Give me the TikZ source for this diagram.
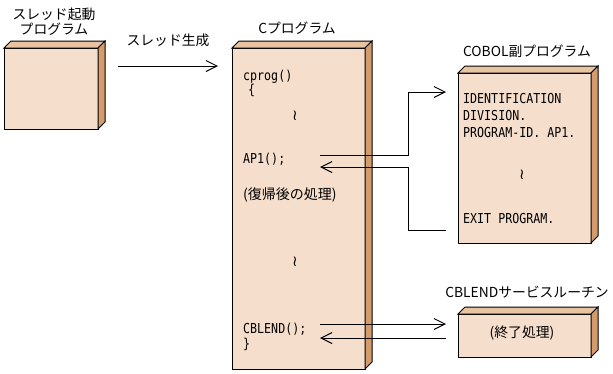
\documentclass[tikz,border=0pt]{standalone}
\usepackage{fontspec}
\usetikzlibrary{arrows.meta,calc}
\newfontfamily\jp{Noto Sans CJK JP}
\newfontfamily\code[FakeStretch=0.85]{DejaVu Sans Mono}
\newfontfamily\sym{DejaVu Sans}
\definecolor{frontc}{RGB}{245,222,204}
\definecolor{topc}{RGB}{232,196,160}
\definecolor{sidec}{RGB}{212,155,108}
\tikzset{
  front/.style={draw=black, fill=frontc, line width=1pt, inner sep=0pt, outer sep=0pt, anchor=north west},
  topface/.style={draw=black, fill=topc, line width=1pt, line join=miter},
  sideface/.style={draw=black, fill=sidec, line width=1pt, line join=miter},
  title/.style={font=\jp\fontsize{13.8}{15}\selectfont, inner sep=0pt},
  codet/.style={font=\code\fontsize{13.7}{15}\selectfont, inner sep=0pt, anchor=base west},
  jpcode/.style={font=\jp\fontsize{14}{15}\selectfont, inner sep=0pt, anchor=base west},
  wave/.style={font=\sym\fontsize{15}{16}\selectfont, inner sep=0pt},
  arr/.style={line width=1pt, -{Straight Barb[length=11pt,width=11pt,line width=1pt]}},
}
\newcommand\cubebox[5]{%
  \node[front, minimum width={(#4-#2)*1pt}, minimum height={(#5-#3)*1pt}] (#1) at (#2,#3) {};
  \draw[topface] (#1.north west) -- ++(7,-7) -- ([shift={(7,-7)}]#1.north east) -- (#1.north east) -- cycle;
  \draw[sideface] (#1.north east) -- ++(7,-7) -- ([shift={(7,-7)}]#1.south east) -- (#1.south east) -- cycle;
}
\begin{document}
\begin{tikzpicture}[x=1pt,y=-1pt]
\useasboundingbox (0,0) rectangle (613,373);
% boxes
\cubebox{b1}{4}{48}{98}{129}
\cubebox{cp}{232}{48}{365}{369}
\cubebox{cb}{458}{73}{591}{243}
\cubebox{cl}{458}{314}{591}{357}
% titles
\node[title] (t1a) at (54,14) {スレッド起動};
\node[title] (t1b) at (54,29) {プログラム};
\node[title] (tth) at (168,40) {スレッド生成};
\node[title] (tcp) at (297,28) {Cプログラム};
\node[title] (tcb) at (527,51) {COBOL副プログラム};
\node[title] (tcl) at (527,292) {CBLENDサービスルーチン};
% C program text
\node[codet] (c1) at (243,80) {cprog()};
\node[codet] (c2) at (248,94) {\{};
\node[wave] (w1) at (295,116) {≀};
\node[codet] (c3) at (243,163) {AP1();};
\node[jpcode] (c4) at (243,199) {(復帰後の処理)};
\node[wave] (w2) at (295,262) {≀};
\node[codet] (c5) at (243,333) {CBLEND();};
\node[codet] (c6) at (243,348) {\}};
% COBOL text
\node[codet] (d1) at (463,103) {IDENTIFICATION};
\node[codet] (d2) at (463,120) {DIVISION.};
\node[codet] (d3) at (463,137) {PROGRAM-ID. AP1.};
\node[wave] (w3) at (522,175) {≀};
\node[codet] (d4) at (463,223) {EXIT PROGRAM.};
% CBLEND text
\node[title] (e1) at (522,333) {(終了処理)};
% connectors
\coordinate (apout) at (320,155);
\coordinate (apin) at (320,167);
\coordinate (clout) at (320,324);
\coordinate (clin) at (320,338);
\draw[arr] ([shift={(20,18)}]b1.north east) -- ([shift={(-14,18)}]cp.north west);
\draw[arr] (apout) -- (408,155) |- ([shift={(-12,19)}]cb.north west);
\draw[arr] ([shift={(-12,157)}]cb.north west) -- (408,230) |- (apin);
\draw[arr] (clout) -- ([shift={(-12,10)}]cl.north west);
\draw[arr] ([shift={(-12,24)}]cl.north west) -- (clin);
\end{tikzpicture}
\end{document}
